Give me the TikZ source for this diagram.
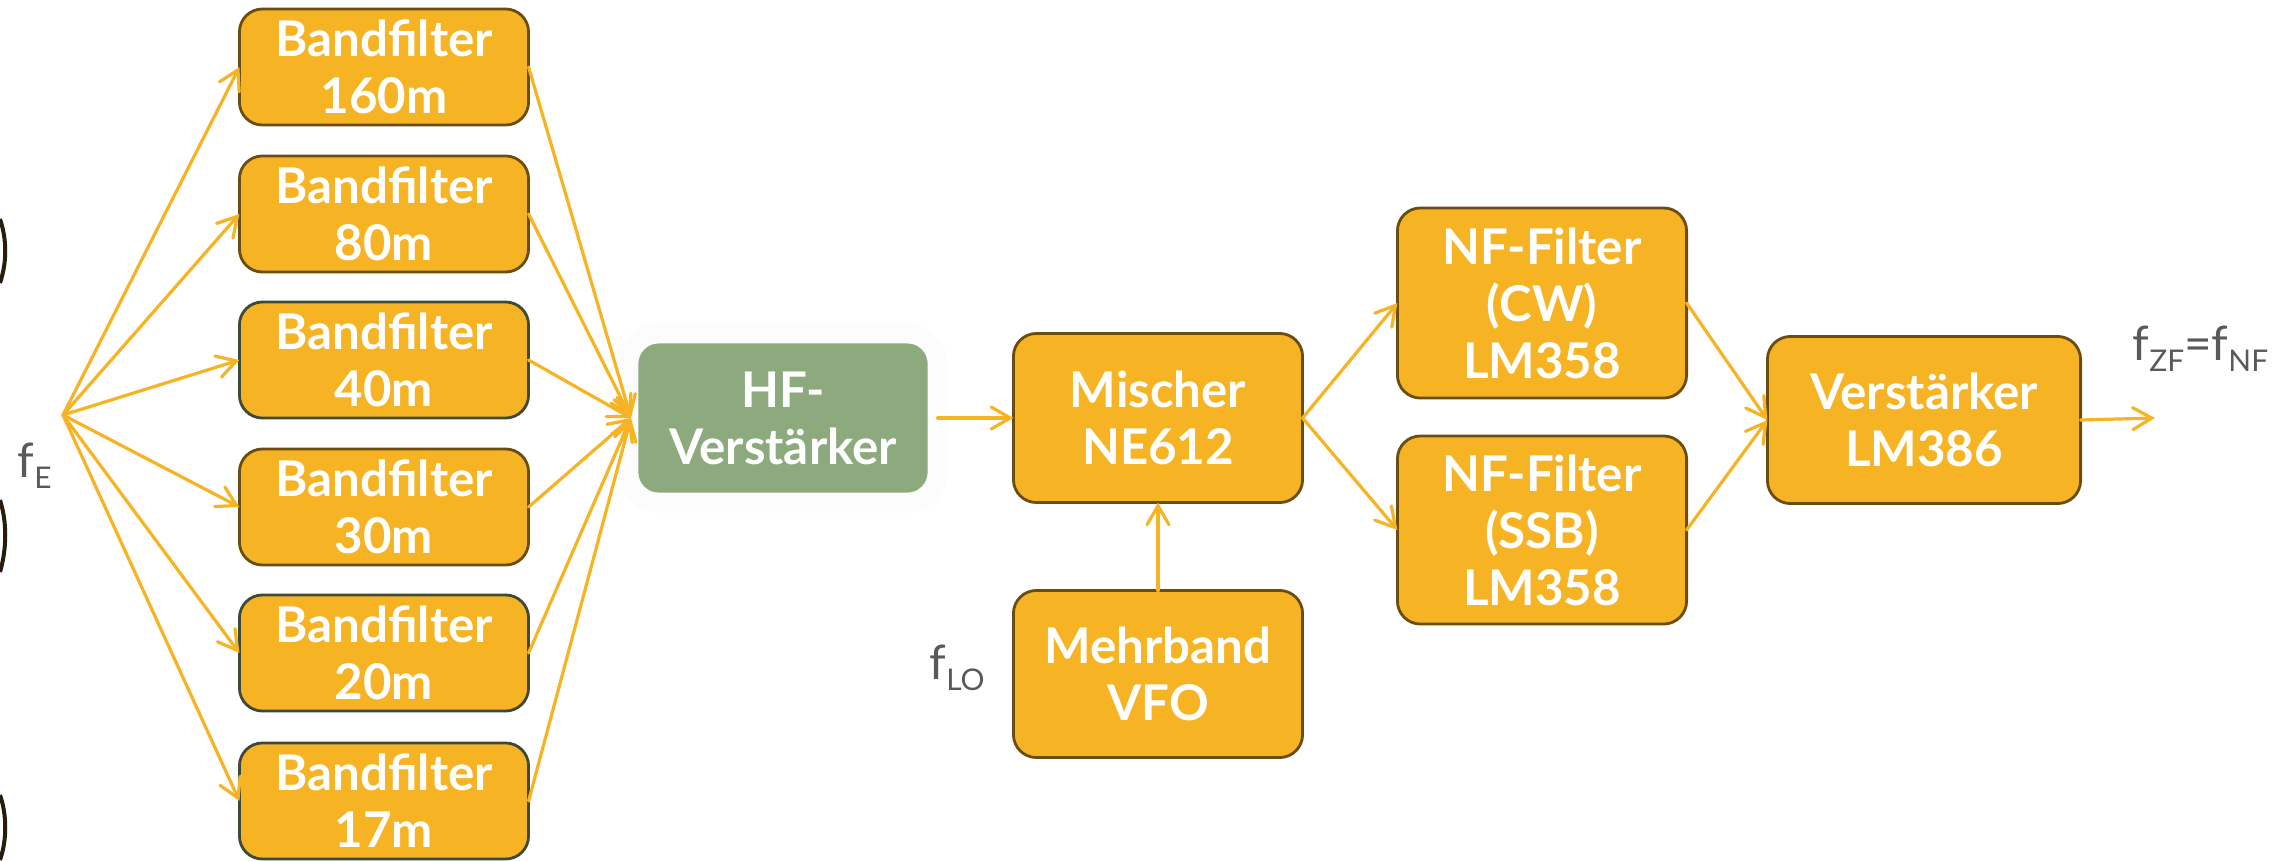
\documentclass[tikz,border=0pt]{standalone}
\usepackage{fontspec}
\setmainfont{Lato}
\usetikzlibrary{arrows.meta, positioning}

\definecolor{boxorange}{HTML}{F6B324}
\definecolor{boxbrown}{HTML}{6A4D10}
\definecolor{boxdark}{HTML}{3E4A38}
\definecolor{hfgreen}{HTML}{8DAA7E}
\definecolor{labelgrey}{HTML}{595959}
\definecolor{edgedark}{HTML}{2A1C0C}
\newcommand{\fsub}[1]{\raisebox{-3.2pt}{\fontsize{8.5}{9}\selectfont #1}}

\begin{document}
\begin{tikzpicture}[x=0.01cm, y=-0.01cm]
	\tikzset{
		blocknode/.style={rectangle, rounded corners=0.23cm, draw=boxbrown, line width=0.28mm, fill=boxorange, text=white, font=\bfseries\fontsize{14}{16.2}\selectfont, align=center, minimum width=2.89cm, inner sep=0pt, outer sep=0pt},
		filternode/.style={blocknode, minimum height=1.16cm},
		darkfilter/.style={filternode, draw=boxdark},
		hfnode/.style={rectangle, rounded corners=0.3cm, draw=white!99!black, line width=0.2cm, fill=hfgreen, text=white, font=\bfseries\fontsize{14}{16.2}\selectfont, align=center, minimum width=3.09cm, minimum height=1.69cm, inner sep=0pt, outer sep=0pt},
		sig/.style={draw=boxorange, line width=0.32mm, line cap=round, -{Straight Barb[length=1.9mm, width=2.2mm, line cap=round]}},
		freqlabel/.style={text=labelgrey, font=\fontsize{13.5}{16}\selectfont, inner sep=0pt, anchor=base west},
	}
	\useasboundingbox (0,0) rectangle (2290,860);

	% edge of the slide
	\draw[edgedark, line width=0.4mm] (0,219) .. controls (7,240) and (7,262) .. (0,283);
	\draw[edgedark, line width=0.4mm] (0,500) .. controls (7,522) and (7,548) .. (0,572);
	\draw[edgedark, line width=0.4mm] (0,795) .. controls (7,815) and (7,840) .. (0,860);

	\node[filternode] (bf160) at (384,67) {Bandfilter\\160m};
	\node[filternode] (bf80) at (384,214) {Bandfilter\\80m};
	\node[darkfilter] (bf40) at (384,360) {Bandfilter\\40m};
	\node[filternode] (bf30) at (384,507) {Bandfilter\\30m};
	\node[darkfilter] (bf20) at (384,653) {Bandfilter\\20m};
	\node[darkfilter] (bf17) at (384,801) {Bandfilter\\17m};

	\node[hfnode] (hf) at (783,418) {HF-\\Verstärker};
	\node[blocknode, minimum height=1.69cm] (mix) at (1158,418) {Mischer\\NE612};
	\node[blocknode, minimum height=1.67cm] (vfo) at (1158,674) {Mehrband\\VFO};
	\node[blocknode, minimum height=1.9cm] (cw) at (1542,303) {NF-Filter\\(CW)\\LM358};
	\node[blocknode, minimum height=1.88cm] (ssb) at (1542,530) {NF-Filter\\(SSB)\\LM358};
	\node[blocknode, minimum width=3.13cm, minimum height=1.67cm] (amp) at (1924,420) {Verstärker\\LM386};

	\node[freqlabel] (fE) at (17,477) {f\fsub{E}};
	\node[freqlabel] (fLO) at (929,679) {f\fsub{LO}};
	\node[freqlabel] (fout) at (2132,360) {f\fsub{ZF}=f\fsub{NF}};

	\coordinate (fan) at (63,415);
	\coordinate (hfin) at (631,418);
	\coordinate (out) at (2155,418);

	\draw[sig] (fan) -- (bf160.west);
	\draw[sig] (fan) -- (bf80.west);
	\draw[sig] (fan) -- (bf40.west);
	\draw[sig] (fan) -- (bf30.west);
	\draw[sig] (fan) -- (bf20.west);
	\draw[sig] (fan) -- (bf17.west);

	\draw[sig] (bf160.east) -- (hfin);
	\draw[sig] (bf80.east) -- (hfin);
	\draw[sig] (bf40.east) -- (hfin);
	\draw[sig] (bf30.east) -- (hfin);
	\draw[sig] (bf20.east) -- (hfin);
	\draw[sig] (bf17.east) -- (hfin);

	\draw[sig] (hf.east) -- (mix.west);
	\draw[sig] (vfo.north) -- (mix.south);
	\draw[sig] (mix.east) -- (cw.west);
	\draw[sig] (mix.east) -- (ssb.west);
	\draw[sig] (cw.east) -- (amp.west);
	\draw[sig] (ssb.east) -- (amp.west);
	\draw[sig] (amp.east) -- (out);
\end{tikzpicture}
\end{document}
